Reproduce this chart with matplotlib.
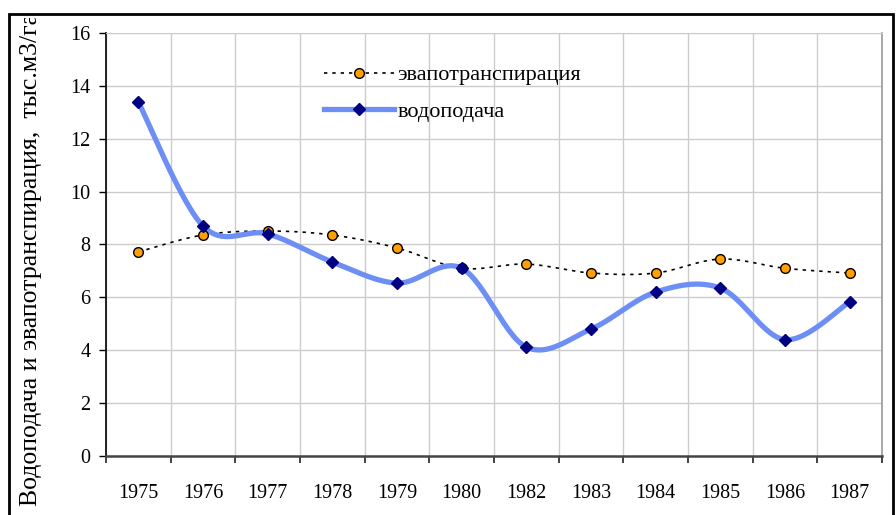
import numpy as np
import matplotlib.pyplot as plt
from matplotlib.patches import Rectangle
from matplotlib.lines import Line2D
from matplotlib.transforms import Bbox, TransformedBbox

years = ["1975", "1976", "1977", "1978", "1979", "1980",
         "1982", "1983", "1984", "1985", "1986", "1987"]
evapotranspiration = [7.72, 8.36, 8.51, 8.36, 7.87, 7.10,
                      7.26, 6.92, 6.92, 7.45, 7.10, 6.92]
water_supply = [13.39, 8.70, 8.40, 7.34, 6.54, 7.10,
                4.12, 4.80, 6.20, 6.35, 4.40, 5.83]

plt.rcParams["font.family"] = ["Liberation Serif", "DejaVu Serif"]


def smooth_curve(x, y, steps=30):
    # Excel-like smoothing: cubic Bezier segments with Catmull-Rom control points
    pts = np.column_stack((x, y)).astype(float)
    padded = np.vstack((pts[0], pts, pts[-1]))
    t = np.linspace(0, 1, steps)[:, None]
    out = []
    for i in range(1, len(padded) - 2):
        p0 = padded[i]
        p3 = padded[i + 1]
        p1 = p0 + (padded[i + 1] - padded[i - 1]) / 6.0
        p2 = p3 - (padded[i + 2] - padded[i]) / 6.0
        seg = ((1 - t) ** 3) * p0 + 3 * ((1 - t) ** 2) * t * p1 \
            + 3 * (1 - t) * t ** 2 * p2 + t ** 3 * p3
        out.append(seg if i == 1 else seg[1:])
    out = np.vstack(out)
    return out[:, 0], out[:, 1]


figure = plt.figure(figsize=(8.96, 5.15), dpi=100)
axes = figure.add_axes([0.1183, 0.1146, 0.8661, 0.8213])

x = np.arange(len(years))

ex, ey = smooth_curve(x, evapotranspiration)
wx, wy = smooth_curve(x, water_supply)

axes.plot(ex, ey, color="black", linestyle=(0, (2, 3)), linewidth=1.2, zorder=3)
axes.plot(x, evapotranspiration, linestyle="none", marker="o", markersize=7,
          markerfacecolor="#ffa000", markeredgecolor="black",
          markeredgewidth=1.0, zorder=5)
axes.plot(wx, wy, color="#6d8ff5", linewidth=3.8, solid_capstyle="butt", zorder=4)
axes.plot(x, water_supply, linestyle="none", marker="D", markersize=6.5,
          markerfacecolor="#000080", markeredgecolor="#000080", zorder=6)

axes.set_xlim(-0.5, len(years) - 0.5)
axes.set_ylim(0, 16)
axes.set_yticks(np.arange(0, 17, 2))
axes.set_xticks(x)
axes.set_xticklabels(years)
axes.set_xticks(np.arange(-0.5, len(years), 1.0), minor=True)
axes.grid(False)
for b in np.arange(-0.5, len(years), 1.0):
    axes.axvline(b, color="#cccccc", linewidth=1.0, zorder=1)
for v in np.arange(2, 17, 2):
    axes.axhline(v, color="#cccccc", linewidth=1.0, zorder=1)

axes.tick_params(axis="x", which="major", length=0, pad=20, labelsize=14.5)
axes.tick_params(axis="x", which="minor", direction="out", length=5, width=1.2,
                 color="#222222")
axes.tick_params(axis="y", which="major", direction="out", length=5, width=1.0,
                 pad=6, labelsize=14.5)

axes.spines["left"].set_color("black")
axes.spines["left"].set_linewidth(1.2)
axes.spines["bottom"].set_color("#444444")
axes.spines["bottom"].set_linewidth(1.8)
axes.spines["top"].set_color("#cccccc")
axes.spines["right"].set_color("#999999")
axes.spines["right"].set_linewidth(1.2)

handles = [
    Line2D([], [], color="black", linestyle=(0, (2, 3)), linewidth=1.2,
           marker="o", markersize=7, markerfacecolor="#ffa000",
           markeredgecolor="black"),
    Line2D([], [], color="#6d8ff5", linewidth=3.8, marker="D", markersize=6.5,
           markerfacecolor="#000080", markeredgecolor="#000080"),
]
axes.legend(handles, ["эвапотранспирация", "водоподача"],
            loc="upper left", bbox_to_anchor=(0.255, 0.972), frameon=False,
            fontsize=16, handlelength=3.15, handletextpad=0.15, labelspacing=0.7)

frame = Rectangle((9 / 896, -0.05), 884 / 896, 1 - 14 / 515 + 0.05,
                  transform=figure.transFigure, fill=False,
                  edgecolor="black", linewidth=2)
figure.patches.append(frame)

label = figure.text(31 / 896, 1 - 506 / 515,
                    "Водоподача и эвапотранспирация,  тыс.м3/га",
                    rotation=90, ha="center", va="bottom", fontsize=18.5)
label.set_clip_on(True)
label.set_clip_box(TransformedBbox(Bbox([[0, 0], [1, 1 - 18 / 515]]),
                                   figure.transFigure))

figure.savefig("out.png", dpi=100)
